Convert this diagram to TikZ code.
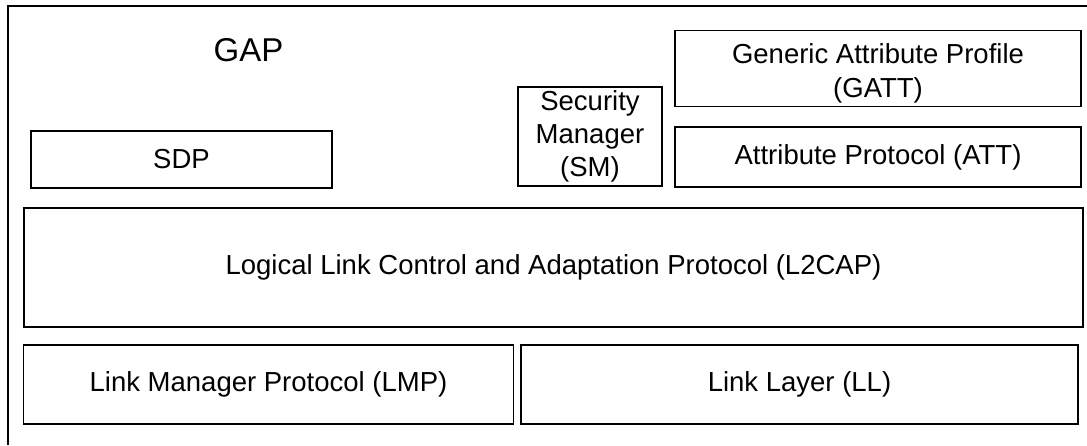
\documentclass[tikz,border=0pt]{standalone}
\usepackage{fontspec}
\setmainfont{Liberation Sans}
\usetikzlibrary{positioning}

\tikzset{
  layerbox/.style={draw, line width=1.3pt, inner sep=0pt, align=center,
    font=\fontsize{27.5}{33}\selectfont},
}

\begin{document}
\begin{tikzpicture}[x=1pt, y=-1pt, line join=miter]
          \useasboundingbox (0,0) rectangle (1087,445);
          % outer frame, cut off at the right and bottom
          \draw[line width=1.3pt] (1087,6) -- (8,6) -- (8,445);
          \node[font=\fontsize{33}{38}\selectfont] (gap) at (248.5,50) {GAP};
          \node[layerbox, minimum width=301pt, minimum height=57pt] (sdp) at (181.5,159.5) {SDP};
          \node[layerbox, minimum width=144pt, minimum height=99pt] (sm) at (590,136.5)
            {Security\\Manager\\(SM)};
          \node[layerbox, minimum width=406pt, minimum height=76pt] (gatt) at (878,68.5)
            {\rule{0pt}{30pt}Generic Attribute Profile\\[1pt](GATT)};
          \node[layerbox, minimum width=406pt, minimum height=60pt] (att) at (878,157)
            {Attribute Protocol (ATT)};
          \node[layerbox, minimum width=1059pt, minimum height=119pt] (l2cap) at (553.5,267.5)
            {Logical Link Control and Adaptation Protocol (L2CAP)};
          \node[layerbox, minimum width=490pt, minimum height=79pt] (lmp) at (268.5,384.5)
            {Link Manager Protocol (LMP)};
          \node[layerbox, minimum width=557pt, minimum height=79pt] (ll) at (799.5,384.5)
            {Link Layer (LL)};
\end{tikzpicture}
\end{document}
